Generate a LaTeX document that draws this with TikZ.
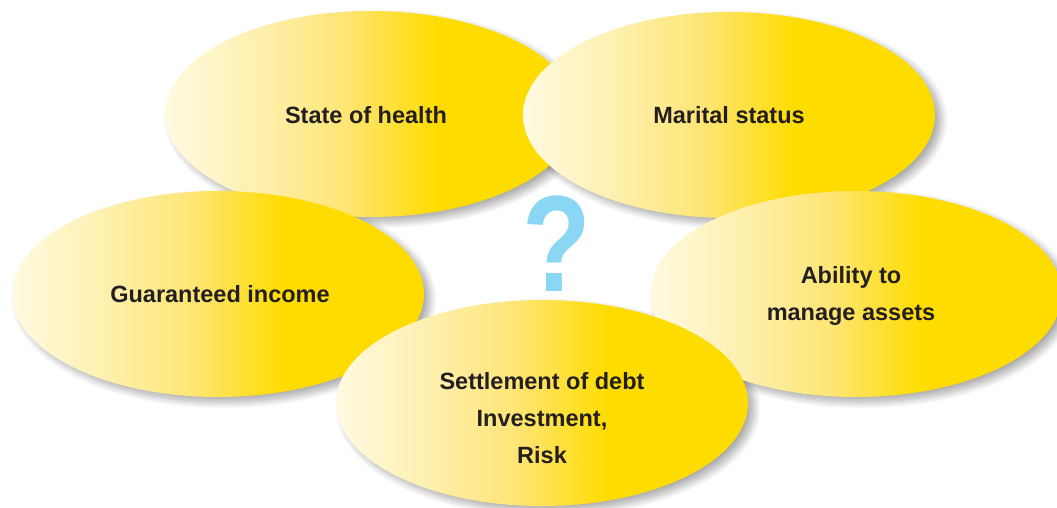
\documentclass[tikz,border=0pt]{standalone}
\usepackage{fontspec}
\setmainfont{Liberation Sans}
\usetikzlibrary{shapes.geometric,shadows.blur}
\definecolor{cream}{HTML}{FFFAE2}
\definecolor{ylA}{HTML}{FEF0B0}
\definecolor{ylB}{HTML}{FEE574}
\definecolor{ydeep}{HTML}{FFDC00}
\definecolor{txt}{HTML}{231F20}
\definecolor{qblue}{HTML}{8AD6F5}
\pgfdeclarehorizontalshading{bubbleshade}{100bp}{color(0bp)=(cream); color(25bp)=(cream); color(36bp)=(ylA); color(47bp)=(ylB); color(58bp)=(ydeep); color(100bp)=(ydeep)}
\begin{document}
\begin{tikzpicture}[x=1pt,y=-1pt,
  bubbleshape/.style={ellipse, inner sep=0pt, minimum width=412pt, minimum height=206pt},
  bubbleshadow/.style={bubbleshape,
    blur shadow={shadow xshift=6pt, shadow yshift=-5pt, shadow blur steps=12, shadow blur radius=7pt, shadow opacity=34}},
  bubble/.style={bubbleshape, shading=bubbleshade},
  label text/.style={font=\fontsize{23.5}{37}\selectfont\bfseries, text=txt, align=center, inner sep=0pt}]
\useasboundingbox (0,0) rectangle (1057,507);
% shadows
\node[bubbleshadow] (healthS) at (371,114) {};
\node[bubbleshadow] (maritalS) at (729,115) {};
\node[bubbleshadow] (incomeS) at (218,294) {};
\node[bubbleshadow] (abilityS) at (856,294) {};
\node[bubbleshadow] (debtS) at (542,403) {};
% bubbles
\node[bubble] (healthE) at (healthS.center) {};
\node[label text] (health) at (366,115) {State of health};
\node[bubble] (maritalE) at (maritalS.center) {};
\node[label text] (marital) at (729,115) {Marital status};
\node[bubble] (incomeE) at (incomeS.center) {};
\node[label text] (income) at (220,294) {Guaranteed income};
\node[bubble] (abilityE) at (abilityS.center) {};
\node[label text] (ability) at (851,295.5) {Ability to\\manage assets};
\node[bubble] (debtE) at (debtS.center) {};
\node[label text] (debt) at (542,418.5) {Settlement of debt\\Investment,\\Risk};
\node[font=\fontsize{137}{137}\bfseries, text=qblue, inner sep=0pt] (q) at (557,244) {\scalebox{0.82}[1]{?}};
\end{tikzpicture}
\end{document}
